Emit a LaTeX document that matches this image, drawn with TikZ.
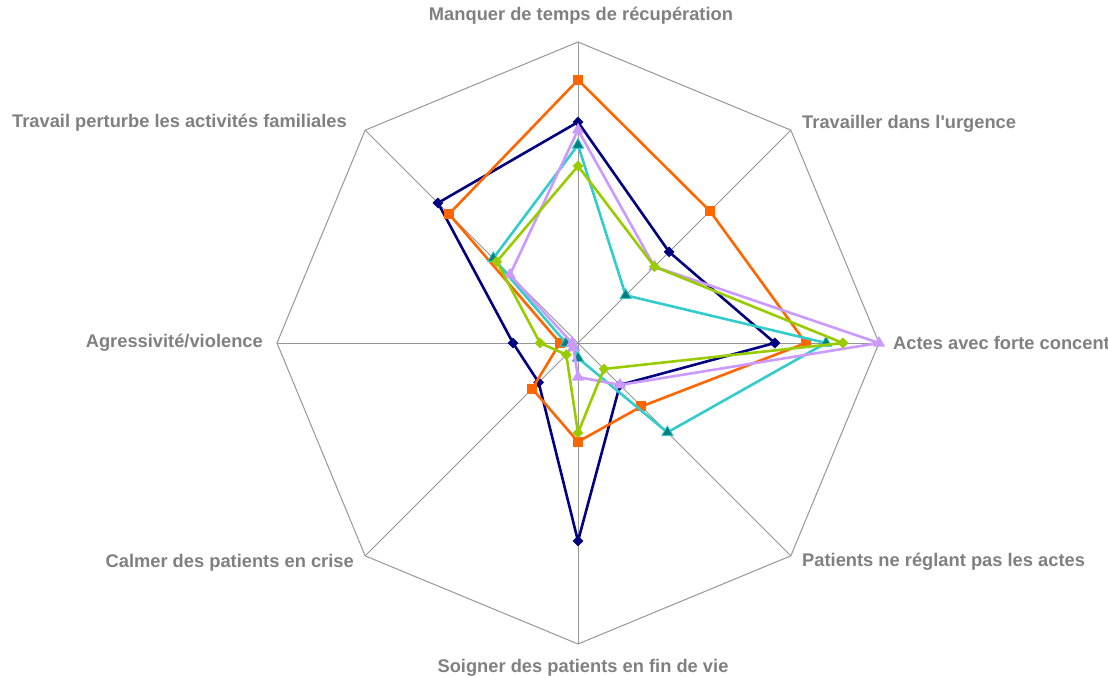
\documentclass[tikz,border=0pt]{standalone}
\usepackage{fontspec}
\setmainfont{Liberation Sans}
\usetikzlibrary{shapes.geometric}
\definecolor{gridc}{HTML}{969696}
\definecolor{labc}{HTML}{808080}
\definecolor{navyc}{HTML}{000080}
\definecolor{orangec}{HTML}{FF6600}
\definecolor{tealline}{HTML}{33CCCC}
\definecolor{tealfill}{HTML}{008080}
\definecolor{greenc}{HTML}{99CC00}
\definecolor{lavc}{HTML}{CC99FF}
\tikzset{
  gridline/.style={draw=gridc, line width=1pt},
  serie/.style={line width=2.6pt, line join=round},
  lab/.style={text=labc, font=\fontsize{18.3}{20}\selectfont\bfseries, inner sep=0pt},
  navymark/.style={diamond, fill=navyc, minimum size=11pt, inner sep=0pt},
  orangemark/.style={rectangle, fill=orangec, minimum size=10pt, inner sep=0pt},
  tealmark/.style={regular polygon, regular polygon sides=3, fill=tealfill, draw=tealline, line width=0.8pt, minimum size=13pt, inner sep=0pt},
  greenmark/.style={diamond, fill=greenc, minimum size=11pt, inner sep=0pt},
  lavmark/.style={regular polygon, regular polygon sides=3, fill=lavc, minimum size=14pt, inner sep=0pt},
}
\newcommand\radarseries[4]{%
  \foreach \v [count=\i from 0] in {#1} {
    \coordinate (#2-\i) at ({578+301*\v*cos(90-45*\i)},{343-301*\v*sin(90-45*\i)});
  }
  \draw[serie, draw=#3] (#2-0) -- (#2-1) -- (#2-2) -- (#2-3) -- (#2-4) -- (#2-5) -- (#2-6) -- (#2-7) -- cycle;
  \foreach \i in {0,...,7} { \node[#4] (#2-m\i) at (#2-\i) {}; }
}
\begin{document}
\begin{tikzpicture}[x=1pt,y=-1pt]
\useasboundingbox (0,0) rectangle (1108,676);
\coordinate (O) at (578,343);
% grid
\foreach \i in {0,...,7} {
  \coordinate (ax\i) at ({578+301*cos(90-45*\i)},{343-301*sin(90-45*\i)});
}
\foreach \i in {0,...,7} { \draw[gridline] (O) -- (ax\i); }
\draw[gridline] (ax0) -- (ax1) -- (ax2) -- (ax3) -- (ax4) -- (ax5) -- (ax6) -- (ax7) -- cycle;
% series
\radarseries{0.734,0.428,0.654,0.197,0.658,0.185,0.216,0.658}{nv}{navyc}{navymark}
\radarseries{0.874,0.620,0.757,0.298,0.328,0.215,0.060,0.606}{or}{orangec}{orangemark}
\radarseries{0.658,0.224,0.824,0.420,0.050,0.020,0.040,0.398}{tl}{tealline}{tealmark}
\radarseries{0.708,0.359,1.000,0.197,0.113,0.022,0.020,0.320}{lv}{lavc}{lavmark}
\radarseries{0.588,0.359,0.880,0.122,0.298,0.055,0.126,0.382}{gr}{greenc}{greenmark}
% labels
\node[lab] (l0) at (581,16) {Manquer de temps de récupération};
\node[lab, anchor=west] (l1) at (802,124) {Travailler dans l\textquotesingle urgence};
\node[lab, anchor=west] (l2) at (893,343) {Actes avec forte concent};
\node[lab, anchor=west] (l3) at (802,562) {Patients ne réglant pas les actes};
\node[lab] (l4) at (583,668) {Soigner des patients en fin de vie};
\node[lab, anchor=east] (l5) at (354,563) {Calmer des patients en crise};
\node[lab, anchor=east] (l6) at (263,343) {Agressivité/violence};
\node[lab, anchor=east] (l7) at (347,123) {Travail perturbe les activités familiales};
\end{tikzpicture}
\end{document}
